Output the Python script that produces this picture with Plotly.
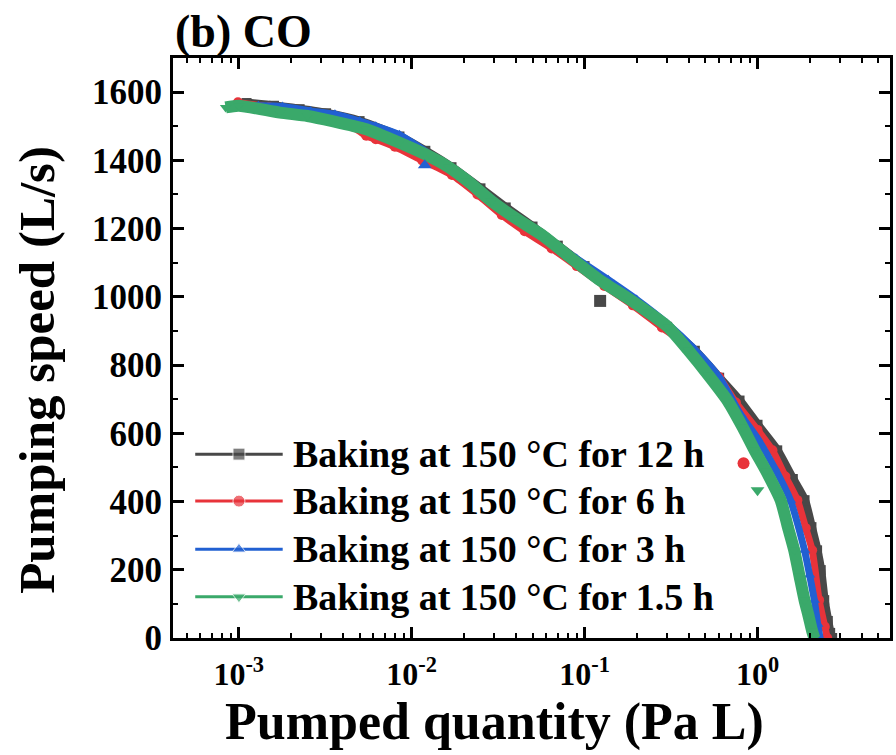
import plotly.graph_objects as go

# ---------------- data ----------------
series_names = [
    "Baking at 150 °C for 12 h",
    "Baking at 150 °C for 6 h",
    "Baking at 150 °C for 3 h",
    "Baking at 150 °C for 1.5 h",
]

x_12h = [1.11e-3, 1.6e-3, 2.25e-3, 3.2e-3, 5.0e-3, 8.5e-3, 0.012, 0.017, 0.025, 0.035,
         0.05, 0.07, 0.10, 0.14, 0.20, 0.30, 0.434, 0.60, 0.787, 1.00, 1.30, 1.60, 1.87,
         2.05, 2.21, 2.32, 2.43, 2.55, 2.63, 2.70]
y_12h = [1568, 1560, 1550, 1538, 1515, 1470, 1428, 1380, 1318, 1262,
         1206, 1150, 1090, 1035, 978, 912, 842, 763, 696, 625, 550, 466, 404,
         325, 257, 199, 111, 50, 15, 0]

x_6h = [9.9e-4, 1.5e-3, 2.3e-3, 3.3e-3, 4.5e-3, 5.46e-3, 6.2e-3, 8.0e-3, 0.0115, 0.0171, 0.024,
        0.0332, 0.045, 0.0645, 0.09, 0.13, 0.19, 0.28, 0.43, 0.60, 0.75, 1.00, 1.22, 1.45,
        1.70, 1.90, 2.07, 2.27, 2.45, 2.53]
y_6h = [1570, 1556, 1538, 1520, 1500, 1472, 1462, 1440, 1400, 1357, 1300,
        1240, 1192, 1142, 1090, 1032, 975, 910, 842, 765, 690, 610, 550, 473,
        404, 322, 257, 111, 33, 0]

x_3h = [9.0e-4, 1.3e-3, 1.79e-3, 2.6e-3, 3.6e-3, 5.0e-3, 6.2e-3, 8.5e-3, 0.0135, 0.02, 0.03,
        0.045, 0.065, 0.09, 0.137, 0.2, 0.3, 0.43, 0.60, 0.80, 1.00, 1.25, 1.55, 1.87,
        2.00, 2.13, 2.23, 2.30]
y_3h = [1558, 1560, 1558, 1545, 1535, 1515, 1500, 1475, 1410, 1355, 1282,
        1215, 1160, 1112, 1050, 992, 922, 848, 765, 655, 585, 500, 404, 257,
        185, 111, 40, 0]

x_1_5h = [8.4e-4, 1.0e-3, 1.73e-3, 2.5e-3, 3.48e-3, 5.46e-3, 8.45e-3, 0.0131, 0.0164, 0.021,
          0.029, 0.040, 0.0578, 0.0805, 0.120, 0.179, 0.233, 0.303, 0.395, 0.52, 0.672,
          0.82, 0.962, 1.12, 1.36, 1.50, 1.63, 1.75, 1.87, 1.97, 2.07, 2.13]
y_1_5h = [1555, 1560, 1540, 1530, 1515, 1491, 1452, 1408, 1380, 1340,
          1280, 1230, 1178, 1120, 1052, 995, 955, 912, 845, 770, 695,
          618, 550, 490, 404, 324, 257, 181, 111, 66, 20, 0]

# isolated points that sit off the main curves
outlier_x_12h, outlier_y_12h = [0.123], [988]
outlier_x_6h, outlier_y_6h = [0.83], [512]
outlier_x_3h, outlier_y_3h = [0.0119], [1386]
outlier_x_1_5h, outlier_y_1_5h = [1.0], [433]

x_tick_vals = [1e-3, 1e-2, 1e-1, 1e0]
x_tick_text = ["10<sup>-3</sup>", "10<sup>-2</sup>", "10<sup>-1</sup>", "10<sup>0</sup>"]

# ---------------- styling ----------------
FONT = "Liberation Serif, Times New Roman, serif"
colors = ["#484848", "#e8333a", "#2160d2", "#3aa96a"]
symbols = ["square", "circle", "triangle-up", "triangle-down"]
band_widths = [9, 7, 7, 12]

curves = [(x_12h, y_12h), (x_6h, y_6h), (x_3h, y_3h), (x_1_5h, y_1_5h)]
outliers = [(outlier_x_12h, outlier_y_12h), (outlier_x_6h, outlier_y_6h),
            (outlier_x_3h, outlier_y_3h), (outlier_x_1_5h, outlier_y_1_5h)]

fig = go.Figure()

for (xs, ys), c, s, w in zip(curves, colors, symbols, band_widths):
    fig.add_trace(go.Scatter(
        x=xs, y=ys, mode="lines+markers",
        line=dict(color=c, width=w, shape="spline", smoothing=0.6),
        marker=dict(color=c, symbol=s, size=10),
        showlegend=False, hoverinfo="skip",
    ))
for (xs, ys), c, s in zip(outliers, colors, symbols):
    fig.add_trace(go.Scatter(
        x=xs, y=ys, mode="markers",
        marker=dict(color=c, symbol=s, size=12),
        showlegend=False, hoverinfo="skip",
    ))

# ---------------- hand-made legend (long line samples, as in the reference) ----------------
leg_x0, leg_x1 = 0.031, 0.153
leg_rows = [0.317, 0.236, 0.153, 0.071]
leg_text_x = 0.165
for name, c, s, ry in zip(series_names, colors, symbols, leg_rows):
    fig.add_trace(go.Scatter(
        x=[leg_x0, (leg_x0 + leg_x1) / 2, leg_x1], y=[ry, ry, ry],
        xaxis="x2", yaxis="y2", mode="lines+markers",
        line=dict(color=c, width=3),
        marker=dict(color=c, symbol=s, size=[0, 12, 0]),
        showlegend=False, hoverinfo="skip",
    ))
    fig.add_annotation(
        x=leg_text_x, y=ry, xref="paper", yref="paper",
        text=name, showarrow=False, xanchor="left", yanchor="middle",
        font=dict(family=FONT, size=38, color="black", weight="bold"),
    )

fig.add_annotation(
    x=0.0, y=1.045, xref="paper", yref="paper", text="(b) CO",
    showarrow=False, xanchor="left", yanchor="middle",
    font=dict(family=FONT, size=46, color="black", weight="bold"),
)

# axis titles placed as in the reference
fig.add_annotation(
    x=0.449, y=-0.145, xref="paper", yref="paper", text="Pumped quantity (Pa L)",
    showarrow=False, xanchor="center", yanchor="middle",
    font=dict(family=FONT, size=52, color="black", weight="bold"),
)
fig.add_annotation(
    x=-0.19, y=0.462, xref="paper", yref="paper", text="Pumping speed (L/s)",
    showarrow=False, xanchor="center", yanchor="middle", textangle=-90,
    font=dict(family=FONT, size=51, color="black", weight="bold"),
)

minor_x = [k * 10.0 ** e for e in range(-4, 1) for k in range(2, 10)]

fig.update_layout(
    width=896, height=755,
    margin=dict(l=173, r=3, t=58, b=117),
    paper_bgcolor="white", plot_bgcolor="white",
    font=dict(family=FONT, color="black", weight="bold"),
    xaxis=dict(
        type="log", range=[-3.38, 0.766],
        tickmode="array", tickvals=x_tick_vals, ticktext=x_tick_text,
        tickfont=dict(family=FONT, size=32, weight="bold"),
        ticks="inside", ticklen=11, tickwidth=2.5, tickcolor="black",
        minor=dict(tickmode="array", tickvals=minor_x, ticks="inside", ticklen=5,
                   tickwidth=2, tickcolor="black", showgrid=False),
        showline=True, linewidth=3, linecolor="black", mirror="allticks",
        showgrid=False, zeroline=False, ticklabelstandoff=6,
    ),
    yaxis=dict(
        range=[0, 1700], tickmode="linear", tick0=0, dtick=200,
        tickfont=dict(family=FONT, size=35, weight="bold"),
        ticks="inside", ticklen=11, tickwidth=2.5, tickcolor="black",
        minor=dict(dtick=100, ticks="inside", ticklen=5, tickwidth=2,
                   tickcolor="black", showgrid=False),
        showline=True, linewidth=3, linecolor="black", mirror="allticks",
        showgrid=False, zeroline=False, ticklabelstandoff=1,
    ),
    xaxis2=dict(overlaying="x", range=[0, 1], visible=False, fixedrange=True),
    yaxis2=dict(overlaying="y", range=[0, 1], visible=False, fixedrange=True),
)

fig.write_html("out.html")
